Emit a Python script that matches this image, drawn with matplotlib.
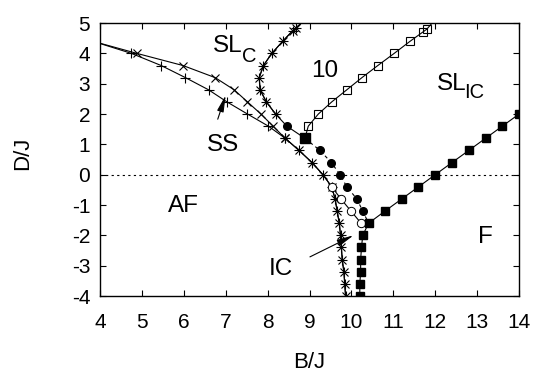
import matplotlib
matplotlib.use("Agg")
import matplotlib.pyplot as plt

plt.rcParams["font.family"] = ["Liberation Sans", "DejaVu Sans"]
plt.rcParams["axes.unicode_minus"] = False

# 相图数据 (B/J, D/J)
ss_x_B = [3.83, 4.88, 5.98, 6.75, 7.20, 7.52, 7.84, 8.13, 8.42]
ss_x_D = [4.4, 4.0, 3.6, 3.2, 2.8, 2.4, 2.0, 1.6, 1.2]

ss_p_B = [3.83, 4.75, 5.46, 6.04, 6.59, 7.03, 7.52, 8.02, 8.42]
ss_p_D = [4.4, 4.0, 3.6, 3.2, 2.8, 2.4, 2.0, 1.6, 1.2]

ic_B = [8.42, 8.75, 9.06, 9.32, 9.53, 9.61, 9.66, 9.71, 9.74, 9.76, 9.78, 9.82, 9.84, 9.86]
ic_D = [1.2, 0.8, 0.4, 0.0, -0.4, -0.8, -1.2, -1.6, -2.0, -2.4, -2.8, -3.2, -3.6, -4.0]

slc_B = [8.98, 8.68, 8.60, 8.36, 8.10, 7.90, 7.80, 7.82, 7.97, 8.19]
slc_D = [5.2, 4.85, 4.75, 4.4, 4.0, 3.6, 3.2, 2.8, 2.4, 2.0]

circ_top_B = [8.19, 8.46, 8.89]
circ_top_D = [2.0, 1.6, 1.2]

dash_B = [8.89, 9.25, 9.52, 9.73, 9.89, 10.13, 10.27, 10.41]
dash_D = [1.2, 0.8, 0.4, 0.0, -0.4, -0.8, -1.2, -1.6]

open_c_B = [9.53, 9.75, 9.99, 10.23]
open_c_D = [-0.4, -0.8, -1.2, -1.6]

open_sq_B = [8.89, 8.97, 9.21, 9.53, 9.89, 10.25, 10.63, 11.02, 11.40, 11.70, 11.80, 12.05]
open_sq_D = [1.2, 1.6, 2.0, 2.4, 2.8, 3.2, 3.6, 4.0, 4.4, 4.7, 4.8, 5.2]

f_B = [10.20, 10.20, 10.22, 10.22, 10.24, 10.27, 10.41, 10.80, 11.20, 11.60, 12.00,
       12.40, 12.80, 13.20, 13.60, 14.00]
f_D = [-4.0, -3.6, -3.2, -2.8, -2.4, -2.0, -1.6, -1.2, -0.8, -0.4, 0.0,
       0.4, 0.8, 1.2, 1.6, 2.0]

x_ticks = list(range(4, 15))
y_ticks = list(range(-4, 6))

fig = plt.figure(figsize=(5.39, 3.72), dpi=100)
ax = fig.add_axes([0.1855, 0.2043, 0.7775, 0.7337])

lw = 0.8
ms = 5.5

# 零线
ax.axhline(0, color="black", lw=0.8, ls=(0, (2, 3)))

# SS 上下两条
ax.plot(ss_x_B, ss_x_D, color="black", lw=lw, marker="x", ms=ms, mew=0.8)
ax.plot(ss_p_B, ss_p_D, color="black", lw=lw, marker="+", ms=ms + 1, mew=0.8)

# 重合部分用 + 和 x 叠加成星号
for m, s in (("+", ms + 1), ("x", ms)):
    ax.plot(ic_B, ic_D, color="black", lw=lw, marker=m, ms=s, mew=0.8)
    ax.plot(slc_B, slc_D, color="black", lw=lw, marker=m, ms=s, mew=0.8)

ax.plot(circ_top_B, circ_top_D, color="black", lw=lw)
ax.plot(circ_top_B[1:2], circ_top_D[1:2], ls="none", marker="o", ms=ms, color="black")

ax.plot(dash_B, dash_D, color="black", lw=lw, ls=(0, (3, 3)))
ax.plot(dash_B[1:-1], dash_D[1:-1], ls="none", marker="o", ms=ms, color="black")

ax.plot(open_c_B, open_c_D, color="black", lw=lw, marker="o", ms=ms + 0.5,
        mfc="white", mec="black", mew=0.7)

ax.plot(open_sq_B, open_sq_D, color="black", lw=lw, marker="s", ms=ms,
        mfc="none", mec="black", mew=0.8)
ax.plot(open_sq_B[:1], open_sq_D[:1], ls="none", marker="s", ms=ms + 1.5, color="black")

ax.plot(f_B, f_D, color="black", lw=lw, marker="s", ms=ms)

# 文字标注
big = 17.5
sub = 14.5
ax.text(6.70, 4.04, "SL", fontsize=big, ha="left", va="baseline")
ax.text(7.40, 3.71, "C", fontsize=sub, ha="left", va="baseline")
ax.text(12.04, 2.79, "SL", fontsize=big, ha="left", va="baseline")
ax.text(12.68, 2.52, "IC", fontsize=sub, ha="left", va="baseline")
ax.text(9.37, 3.21, "10", fontsize=big, ha="center", va="baseline")
ax.text(6.94, 0.79, "SS", fontsize=big, ha="center", va="baseline")
ax.text(5.98, -1.23, "AF", fontsize=big, ha="center", va="baseline")
ax.text(8.31, -3.31, "IC", fontsize=big, ha="center", va="baseline")
ax.text(13.19, -2.26, "F", fontsize=big, ha="center", va="baseline")

arrow = dict(arrowstyle="-|>,head_length=1.0,head_width=0.2", color="black", lw=0.8,
             shrinkA=0, shrinkB=0)
ax.annotate("", xy=(7.0, 2.62), xytext=(6.81, 1.83), arrowprops=arrow)
ax.annotate("", xy=(10.05, -2.0), xytext=(9.01, -2.71), arrowprops=arrow)

ax.set_xlim(4, 14)
ax.set_ylim(-4, 5)
ax.set_xticks(x_ticks)
ax.set_yticks(y_ticks)
ax.tick_params(direction="in", length=4.5, width=0.8, top=True, right=True,
               labelsize=15)
ax.tick_params(axis="x", pad=12)
ax.tick_params(axis="y", pad=7)
for sp in ax.spines.values():
    sp.set_linewidth(1.0)

ax.set_xlabel("B/J", fontsize=16, va="center", ha="center")
ax.xaxis.set_label_coords(0.499, -0.243)
ax.set_ylabel("D/J", fontsize=16, va="center", ha="center")
ax.yaxis.set_label_coords(-0.184, 0.522)

fig.savefig("out.png", dpi=100)
